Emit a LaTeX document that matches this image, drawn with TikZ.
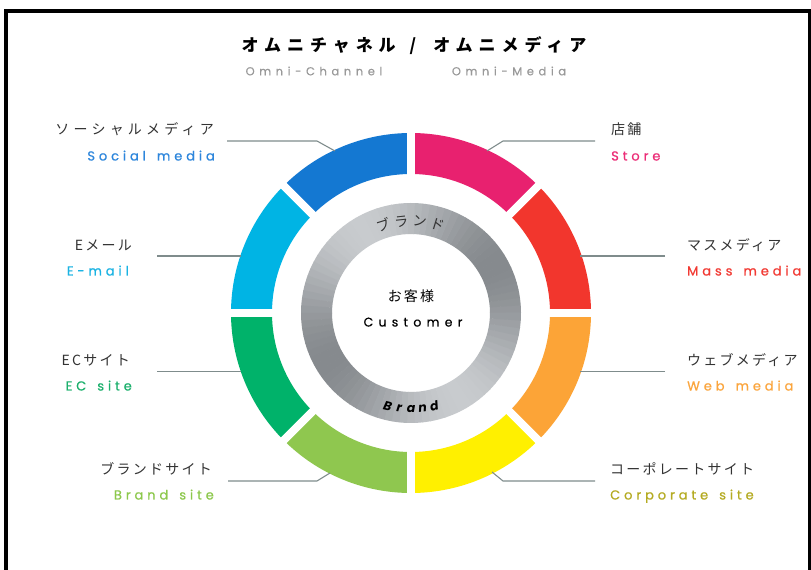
\documentclass[tikz,border=0pt]{standalone}
\usepackage{fontspec}
\setmainfont{Poppins}
\newfontfamily\jplab[LetterSpace=16]{Noto Sans CJK JP}
\newfontfamily\jpwide[LetterSpace=30]{Noto Sans CJK JP}
\newfontfamily\jptitle[LetterSpace=35]{Noto Sans CJK JP}
\newfontfamily\enlab[LetterSpace=30,WordSpace=1.5,FakeBold=0.7]{Poppins}
\newfontfamily\engray[LetterSpace=40,FakeBold=0.3]{Poppins}
\newfontfamily\encust[LetterSpace=42,FakeBold=0.6]{Poppins}
\usetikzlibrary{calc}
\definecolor{cSocial}{HTML}{1478D2}
\definecolor{cStore}{HTML}{E8216F}
\definecolor{cMass}{HTML}{F2362D}
\definecolor{cWeb}{HTML}{FCA437}
\definecolor{cCorp}{HTML}{FFF000}
\definecolor{cBrand}{HTML}{8FC74F}
\definecolor{cEC}{HTML}{00B26A}
\definecolor{cMail}{HTML}{00B4E4}
\definecolor{tSocial}{HTML}{2D86DC}
\definecolor{tStore}{HTML}{EC2D77}
\definecolor{tMass}{HTML}{F23A33}
\definecolor{tWeb}{HTML}{FBA53D}
\definecolor{tCorp}{HTML}{B5AB22}
\definecolor{tBrand}{HTML}{8CC84B}
\definecolor{tEC}{HTML}{1BB06C}
\definecolor{tMail}{HTML}{1AB3E3}
\definecolor{jtext}{HTML}{333333}
\definecolor{omnigray}{HTML}{999999}
\definecolor{leadcol}{HTML}{7F8C8C}
\definecolor{ringlight}{HTML}{C8CBCE}
\definecolor{ringdark}{HTML}{868A8E}
\begin{document}
\begin{tikzpicture}[x=1pt,y=1pt,
  jlab/.style={inner sep=0pt, text=jtext, font=\jplab\fontsize{14}{16}\selectfont},
  elab/.style={inner sep=0pt, font=\enlab\fontsize{13}{15}\selectfont},
  leader/.style={draw=leadcol, line width=1.1pt},
  frameline/.style={line width=4pt, black}]
\useasboundingbox (0,0) rectangle (811,570);
\fill[white] (0,0) rectangle (811,570);
\draw[frameline] (6,-5) -- (6,559) -- (809.5,559) -- (809.5,-5);
\coordinate (C) at (411,257);
% colored ring
\foreach \a/\col in {0/cMass,45/cStore,90/cSocial,135/cMail,180/cEC,225/cBrand,270/cCorp,315/cWeb}{
  \fill[\col] ($(C)+(\a:180pt)$) arc[start angle=\a, end angle=\a+45, radius=180pt]
     -- ($(C)+(\a+45:139pt)$) arc[start angle=\a+45, end angle=\a, radius=139pt] -- cycle;
}
\foreach \a in {0,45,90,135}{
  \draw[white, line width=8pt] ($(C)+(\a:190pt)$) -- ($(C)+(\a+180:190pt)$);
}
% metallic ring
\foreach \a in {0,4,...,356}{
  \pgfmathsetmacro\m{max(0,min(100,50+50*cos(2*(\a+2-120))))}
  \fill[ringlight!\m!ringdark] ($(C)+(\a:110pt)$) arc[start angle=\a, end angle=\a+4.3, radius=110pt]
     -- ($(C)+(\a+4.3:79pt)$) arc[start angle=\a+4.3, end angle=\a, radius=79pt] -- cycle;
}
% title
\node[inner sep=0pt, anchor=base, font=\jptitle\bfseries\fontsize{17}{20}\selectfont] (title) at (414,518) {オムニチャネル\hspace{14pt}/\hspace{17pt}オムニメディア};
\node[inner sep=0pt, anchor=base, text=omnigray, font=\engray\fontsize{11.5}{14}\selectfont] (omc) at (314,494.7) {Omni-Channel};
\node[inner sep=0pt, anchor=base, text=omnigray, font=\engray\fontsize{11.5}{14}\selectfont] (omm) at (509,494.7) {Omni-Media};
% center
\node[jlab, anchor=base, text=black] (kyaku) at (411,268) {お客様};
\node[inner sep=0pt, anchor=base, font=\encust\fontsize{12.5}{15}\selectfont] (cust) at (413,243.5) {Customer};
\foreach \ch [count=\i from 0] in {ブ,ラ,ン,ド}{
  \pgfmathsetmacro\ang{107.5-11.5*\i}
  \node[inner sep=0pt, text=jtext, font=\jplab\fontsize{14}{16}\selectfont, rotate=\ang-90] (br\i) at ($(C)+(\ang:92pt)$) {\ch};
}
\foreach \ch [count=\i from 0] in {B,r,a,n,d}{
  \pgfmathsetmacro\ang{256+7*\i}
  \node[inner sep=0pt, font=\bfseries\itshape\fontsize{12.5}{15}\selectfont, rotate=\ang+90] (bn\i) at ($(C)+(\ang:96pt)$) {\ch};
}
% left labels
\node[jlab, anchor=base east, font=\jpwide\fontsize{14}{16}\selectfont] (socJ) at (214,435) {ソーシャルメディア};
\node[elab, anchor=base east, text=tSocial] (socE) at (215,409.5) {Social media};
\node[jlab, anchor=base east] (mailJ) at (132,319) {Eメール};
\node[elab, anchor=base east, text=tMail] (mailE) at (129,294.5) {E-mail};
\node[jlab, anchor=base east] (ecJ) at (130,204) {ECサイト};
\node[elab, anchor=base east, text=tEC] (ecE) at (132,179.5) {EC site};
\node[jlab, anchor=base east] (bsJ) at (212,95) {ブランドサイト};
\node[elab, anchor=base east, text=tBrand] (bsE) at (214,70.5) {Brand site};
% right labels
\node[jlab, anchor=base west] (stJ) at (611,435) {店舗};
\node[elab, anchor=base west, text=tStore] (stE) at (611,409.5) {Store};
\node[jlab, anchor=base west] (msJ) at (687,319) {マスメディア};
\node[elab, anchor=base west, text=tMass] (msE) at (687,294.5) {Mass media};
\node[jlab, anchor=base west] (wbJ) at (687,204) {ウェブメディア};
\node[elab, anchor=base west, text=tWeb] (wbE) at (687,179.5) {Web media};
\node[jlab, anchor=base west] (cpJ) at (610,95) {コーポレートサイト};
\node[elab, anchor=base west, text=tCorp] (cpE) at (610,70.5) {Corporate site};
% leader coordinates
\coordinate (socA) at (227,429); \coordinate (socB) at (317,429); \coordinate (socC) at (335,419);
\coordinate (stA) at (595,429); \coordinate (stB) at (503,429); \coordinate (stC) at (487,419);
\coordinate (mailA) at (157,314); \coordinate (mailC) at (241,314);
\coordinate (ecA) at (157,198.5); \coordinate (ecC) at (241,198.5);
\coordinate (msA) at (665,314); \coordinate (msC) at (580,314);
\coordinate (wbA) at (665,198.5); \coordinate (wbC) at (580,198.5);
\coordinate (bsA) at (228,89); \coordinate (bsB) at (317,89); \coordinate (bsC) at (330,97);
\coordinate (cpA) at (595,89); \coordinate (cpB) at (503,89); \coordinate (cpC) at (492,98);
\draw[leader] (socA) -- (socB) -- (socC);
\draw[leader] (stA) -- (stB) -- (stC);
\draw[leader] (mailA) -- (mailC);
\draw[leader] (ecA) -- (ecC);
\draw[leader] (msA) -- (msC);
\draw[leader] (wbA) -- (wbC);
\draw[leader] (bsA) -- (bsB) -- (bsC);
\draw[leader] (cpA) -- (cpB) -- (cpC);
\end{tikzpicture}
\end{document}
